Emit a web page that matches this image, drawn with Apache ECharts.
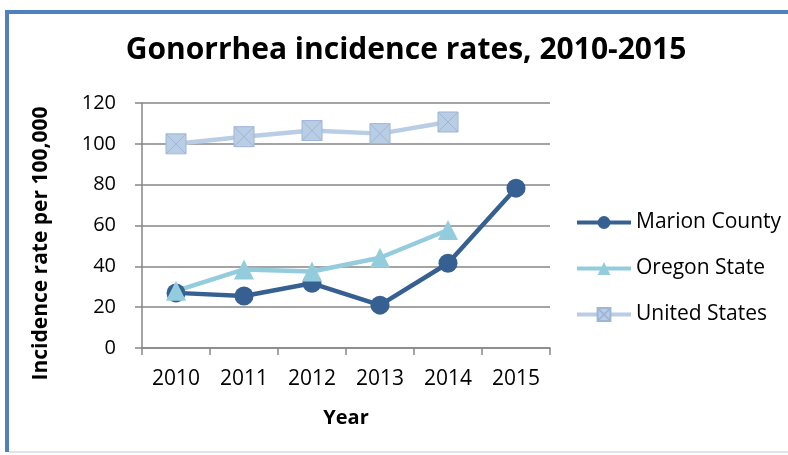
<!DOCTYPE html>
<html><head><meta charset="utf-8">
<script src="https://cdn.jsdelivr.net/npm/echarts@6/dist/echarts.min.js"></script>
<style>html,body{margin:0;padding:0;background:#fff;overflow:hidden}#c{width:788px;height:455px}</style>
</head><body><div id="c"></div>
<script>
var years = ['2010','2011','2012','2013','2014','2015'];
var marionCounty = [27, 25.5, 31.7, 21, 41.5, 78.3];
var oregonState = [28, 38.5, 37.5, 44.2, 57.8, null];
var unitedStates = [100, 103.5, 106.5, 105, 110.7, null];
var yTicks = {min: 0, max: 120, interval: 20};

var FONT = 'Open Sans';
var chart = echarts.init(document.getElementById('c'));
var xSym = 'path://M0,0L10,0L10,10L0,10Z M0,0L10,10 M10,0L0,10';
chart.setOption({
  animation: false,
  textStyle: {fontFamily: FONT},
  graphic: [
    {type: 'polyline', id: 'frame', shape: {points: [[7, 452], [7, 12], [800, 12]]},
     style: {stroke: '#4f81bd', lineWidth: 4, fill: null}},
    {type: 'polyline', id: 'bottom', shape: {points: [[9, 452], [800, 452]]},
     style: {stroke: '#dbe5f1', lineWidth: 2, fill: null}}
  ],
  title: {
    text: 'Gonorrhea incidence rates, 2010-2015',
    left: 401, textAlign: 'center', top: 30,
    textStyle: {fontFamily: FONT, fontWeight: 'bold', fontSize: 30, color: '#000'}
  },
  legend: {
    orient: 'vertical', left: 575, top: 212, itemGap: 25, padding: 0,
    itemWidth: 54, itemHeight: 16,
    lineStyle: {width: 4},
    textStyle: {fontFamily: FONT, fontSize: 21, color: '#000'},
    data: ['Marion County', 'Oregon State', 'United States']
  },
  grid: {left: 142, right: 238, top: 103, bottom: 107},
  xAxis: {
    type: 'category', data: years, boundaryGap: true,
    name: 'Year', nameLocation: 'middle', nameGap: 60,
    nameTextStyle: {fontFamily: FONT, fontWeight: 'bold', fontSize: 20, color: '#000'},
    axisLine: {lineStyle: {color: '#868686', width: 1.5}},
    axisTick: {show: true, length: 7, alignWithLabel: false, lineStyle: {color: '#868686', width: 1.5}},
    axisLabel: {fontFamily: FONT, fontSize: 21, color: '#000', margin: 21}
  },
  yAxis: {
    type: 'value', min: yTicks.min, max: yTicks.max, interval: yTicks.interval,
    name: 'Incidence rate per 100,000', nameLocation: 'middle', nameGap: 90,
    nameTextStyle: {fontFamily: FONT, fontWeight: 'bold', fontSize: 21, color: '#000', padding: [0, 36, 0, 0]},
    axisLine: {show: true, lineStyle: {color: '#868686', width: 1.5}},
    axisTick: {show: true, length: 7, inside: false, lineStyle: {color: '#868686', width: 1.5}},
    splitLine: {lineStyle: {color: '#868686', width: 1.5}},
    axisLabel: {fontFamily: FONT, fontSize: 20, color: '#000', margin: 26}
  },
  series: [
    {name: 'Marion County', type: 'line', data: marionCounty, symbol: 'circle', symbolSize: 19,
     lineStyle: {color: '#376092', width: 4.5}, itemStyle: {color: '#376092'}},
    {name: 'Oregon State', type: 'line', data: oregonState, symbol: 'triangle', symbolSize: 20,
     lineStyle: {color: '#93cddd', width: 4.5}, itemStyle: {color: '#93cddd'}},
    {name: 'United States', type: 'line', data: unitedStates, symbol: xSym, symbolSize: 20,
     lineStyle: {color: '#b9cde5', width: 4.5}, itemStyle: {color: '#b9cde5', borderColor: '#9db6d8', borderWidth: 1}}
  ]
});
</script></body></html>
